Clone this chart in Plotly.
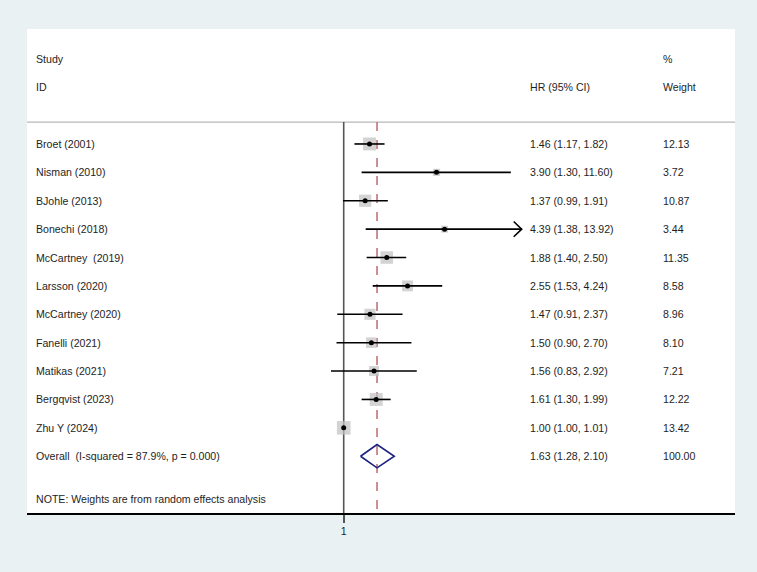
import numpy as np
import plotly.graph_objects as go

studies = ["Broet (2001)", "Nisman (2010)", "BJohle (2013)", "Bonechi (2018)",
           "McCartney  (2019)", "Larsson (2020)", "McCartney (2020)", "Fanelli (2021)",
           "Matikas (2021)", "Bergqvist (2023)", "Zhu Y (2024)"]
hr = [1.46, 3.90, 1.37, 4.39, 1.88, 2.55, 1.47, 1.50, 1.56, 1.61, 1.00]
lo = [1.17, 1.30, 0.99, 1.38, 1.40, 1.53, 0.91, 0.90, 0.83, 1.30, 1.00]
hi = [1.82, 11.60, 1.91, 13.92, 2.50, 4.24, 2.37, 2.70, 2.92, 1.99, 1.01]
weights = [12.13, 3.72, 10.87, 3.44, 11.35, 8.58, 8.96, 8.10, 7.21, 12.22, 13.42]
overall_label = "Overall  (I-squared = 87.9%, p = 0.000)"
overall = (1.63, 1.28, 2.10)
note = "NOTE: Weights are from random effects analysis"

XCLIP = 13.6          # right clip of forest area
FONT = dict(family="Liberation Sans, Arial, sans-serif", size=10.6, color="#1e1e1e")

fig = go.Figure()
n = len(studies)
rows = list(range(n))

# Weight boxes
sizes = [13.6 * np.sqrt(w / max(weights)) for w in weights]
fig.add_trace(go.Scatter(x=hr, y=rows, mode="markers",
                         marker=dict(symbol="square", size=sizes, color="#c0c0c0", line=dict(width=0)),
                         hoverinfo="skip", showlegend=False))

# CI lines (with clipping/arrow)
for i in rows:
    upper = min(hi[i], XCLIP)
    fig.add_trace(go.Scatter(x=[lo[i], upper], y=[i, i], mode="lines",
                             line=dict(color="black", width=1.6), hoverinfo="skip", showlegend=False))
    if hi[i] > XCLIP:
        back = XCLIP / np.exp(8 / 68.2)
        fig.add_trace(go.Scatter(x=[back, XCLIP, back], y=[i - 0.27, i, i + 0.27], mode="lines",
                                 line=dict(color="black", width=1.6), hoverinfo="skip", showlegend=False))

# point estimates
fig.add_trace(go.Scatter(x=hr, y=rows, mode="markers",
                         marker=dict(symbol="circle", size=5, color="black"),
                         hoverinfo="skip", showlegend=False))

# Overall diamond
oy = n
fig.add_trace(go.Scatter(x=[overall[1], overall[0], overall[2], overall[0], overall[1]],
                         y=[oy, oy - 0.41, oy, oy + 0.41, oy], mode="lines",
                         line=dict(color="#1c2380", width=1.6), hoverinfo="skip", showlegend=False))

shapes = [
    # header separator
    dict(type="line", xref="paper", yref="y", x0=0, x1=1, y0=-0.77, y1=-0.77,
         line=dict(color="#b8b8b8", width=1.2), layer="below"),
    # null line
    dict(type="line", xref="x", yref="y", x0=1, x1=1, y0=-0.77, y1=13.0,
         line=dict(color="#555555", width=1.6), layer="below"),
    # overall dashed line
    dict(type="line", xref="x", yref="y", x0=overall[0], x1=overall[0], y0=-0.77, y1=13.0,
         line=dict(color="#c0737a", width=1.6, dash="dash"), layer="below"),
]

ann = []
def txt(x, y, s, xref="paper"):
    ann.append(dict(x=x, y=y, xref=xref, yref="y", text=s, showarrow=False,
                    xanchor="left", yanchor="middle", font=FONT))

LX, HX, WX = (33.8 - 27) / 708, (528 - 27) / 708, (661 - 27) / 708
txt(LX, -3, "Study"); txt(LX, -2, "ID")
txt(HX, -2, "HR (95% CI)")
txt(WX, -3, "%"); txt(WX, -2, "Weight")
for i in rows:
    txt(LX, i, studies[i])
    txt(HX, i, f"{hr[i]:.2f} ({lo[i]:.2f}, {hi[i]:.2f})")
    txt(WX, i, f"{weights[i]:.2f}")
txt(LX, oy, overall_label)
txt(HX, oy, f"{overall[0]:.2f} ({overall[1]:.2f}, {overall[2]:.2f})")
txt(WX, oy, f"{sum(weights):.2f}")
txt(LX, 12.5, note)

fig.update_layout(
    width=757, height=572,
    margin=dict(l=27, r=22, t=29, b=59),
    paper_bgcolor="#eaf1f3", plot_bgcolor="white",
    shapes=shapes, annotations=ann,
    xaxis=dict(type="log", range=[-2.017, 2.492], showgrid=False, zeroline=False,
               tickvals=[1], ticktext=["1"], ticks="outside", ticklen=8, tickwidth=1.5,
               tickcolor="#555555", showline=True, linecolor="black", linewidth=1.5,
               tickfont=dict(family="Liberation Sans, Arial, sans-serif", size=10.6, color="#1e1e1e")),
    yaxis=dict(range=[13.0, -4.05], showgrid=False, zeroline=False, showticklabels=False,
               showline=False),
)

fig.write_html("out.html")
